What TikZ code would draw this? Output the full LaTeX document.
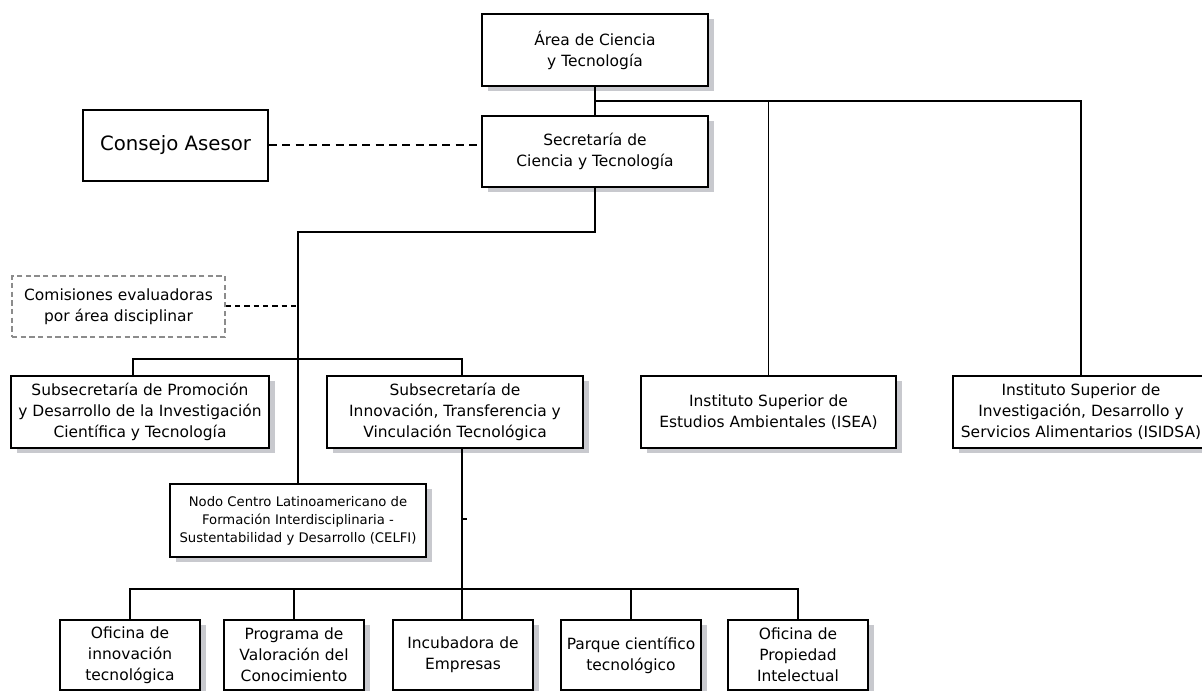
\documentclass[tikz,border=0pt]{standalone}
\usepackage{fontspec}
\setmainfont{DejaVu Sans}
\usepackage{xcolor}
\usetikzlibrary{shadows}

\definecolor{shadowgray}{RGB}{200,201,206}
\definecolor{evalgray}{RGB}{140,140,140}

\begin{document}
\begin{tikzpicture}[x=0.75pt,y=-0.75pt,
  boxbase/.style={draw,line width=1.5pt,fill=white,align=center,inner sep=0pt,
    font=\fontsize{11.6}{15.75}\selectfont},
  orgbox/.style={boxbase,
    drop shadow={shadow xshift=4.5pt,shadow yshift=-3.75pt,fill=shadowgray,opacity=1}},
  lowbox/.style={orgbox,minimum width=105pt,minimum height=52.5pt},
  evalbox/.style={draw=evalgray,line width=1pt,dash pattern=on 4pt off 2.5pt,
    align=center,inner sep=0pt,minimum width=159.75pt,minimum height=45.75pt,
    font=\fontsize{11.6}{15.75}\selectfont},
  link/.style={line width=1.2pt},
  dashlink/.style={line width=1.5pt,dash pattern=on 6pt off 4pt},
  dotlink/.style={line width=1.5pt,dash pattern=on 4pt off 3pt}]
\useasboundingbox (0,0) rectangle (1202,691);

% top
\node[orgbox,minimum width=169.5pt,minimum height=54pt] (area) at (595,50) {Área de Ciencia\\ y Tecnología};
\node[orgbox,minimum width=169.5pt,minimum height=53.25pt] (secre) at (595,151.5) {Secretaría de\\Ciencia y Tecnología};
\node[boxbase,minimum width=138.75pt,minimum height=53.25pt,font=\fontsize{14.8}{18}\selectfont] (consejo) at (175.5,145.5) {Consejo Asesor};
\node[evalbox] (comis) at (118.5,306.5) {Comisiones evaluadoras\\por área disciplinar};

% second level
\node[orgbox,minimum width=193.5pt,minimum height=54pt] (subprom) at (140,412) {Subsecretaría de Promoción\\y Desarrollo de la Investigación\\Científica y Tecnología};
\node[orgbox,minimum width=192pt,minimum height=54pt] (subinn) at (455,412) {Subsecretaría de\\Innovación, Transferencia y\\Vinculación Tecnológica};
\node[orgbox,minimum width=191.25pt,minimum height=54pt] (isea) at (768.5,412) {Instituto Superior de\\Estudios Ambientales (ISEA)};
\node[orgbox,minimum width=192pt,minimum height=54pt] (isidsa) at (1081,412) {Instituto Superior de\\Investigación, Desarrollo y\\Servicios Alimentarios (ISIDSA)};
\node[orgbox,minimum width=192pt,minimum height=54.75pt,font=\fontsize{9.9}{13.5}\selectfont] (nodo) at (298,520.5) {Nodo Centro Latinoamericano de\\Formación Interdisciplinaria -\\Sustentabilidad y Desarrollo (CELFI)};

% bottom
\node[lowbox] (ofinn) at (130,655) {Oficina de\\innovación\\tecnológica};
\node[lowbox] (prog) at (294,655) {Programa de\\Valoración del\\Conocimiento};
\node[lowbox] (incub) at (463,655) {Incubadora de\\Empresas};
\node[lowbox] (parque) at (631,655) {Parque científico\\tecnológico};
\node[lowbox] (ofprop) at (798,655) {Oficina de\\Propiedad\\Intelectual};

% connectors
\coordinate (topbus) at (595,101);
\draw[link] (area.south) -- (secre.north);
\draw[link] (topbus) -| (isea.north);
\draw[link] (topbus) -| (isidsa.north);
\draw[dashlink] (consejo.east) -- (consejo.east -| secre.west);

\coordinate (bend) at (298,232);
\draw[link] (secre.south) |- (bend) -- (nodo.north);
\draw[dotlink] (comis.east) -- (comis.east -| nodo.north);

\coordinate (midL) at (133,359);
\coordinate (midR) at (462,359);
\draw[link] (midL |- subprom.north) -- (midL) -- (midR) -- (midR |- subinn.north);
\draw[link] (midR |- subinn.south) -- (incub.north -| midR);
\coordinate (tick) at (462,519);
\draw[link] (tick) -- ++(5,0);

\coordinate (botL) at (130,589);
\coordinate (botR) at (798,589);
\draw[link] (ofinn.north) -- (botL) -- (botR) -- (ofprop.north);
\foreach \b in {prog,parque}
  \draw[link] (\b.north) -- (\b.north |- botL);
\end{tikzpicture}
\end{document}
